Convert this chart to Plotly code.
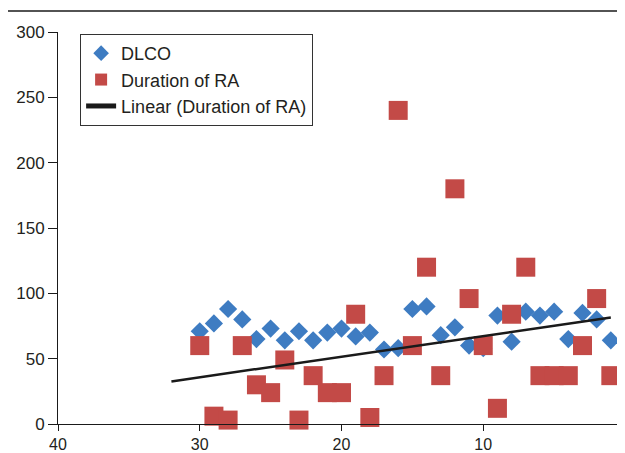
import numpy as np
import plotly.graph_objects as go

# Data (x = index)
x_vals = list(range(30, 0, -1))
dlco = [71, 77, 88, 80, 65, 73, 64, 71, 64, 70, 73, 67, 70, 57, 58,
        88, 90, 68, 74, 60, 58, 83, 63, 86, 83, 86, 65, 85, 80, 64]
duration_ra = [60, 6, 3, 60, 30, 24, 49, 3, 37, 24, 24, 84, 5, 37, 240,
               60, 120, 37, 180, 96, 60, 12, 84, 120, 37, 37, 37, 60, 96, 37]
trend_range = [32, 1]
x_ticks = [40, 30, 20, 10, 0]
y_ticks = [0, 50, 100, 150, 200, 250, 300]

slope, intercept = np.polyfit(x_vals, duration_ra, 1)
trend_x = np.array(trend_range, dtype=float)
trend_y = slope * trend_x + intercept

BLUE = "#3E7CC2"
RED = "#C34A47"
FONT = "Liberation Sans, Arial, Helvetica, sans-serif"
TXT = "#231F20"

fig = go.Figure()
fig.add_trace(go.Scatter(
    x=x_vals, y=dlco, mode="markers", name="DLCO",
    marker=dict(symbol="diamond", size=14, color=BLUE, line=dict(width=0)),
    cliponaxis=False))
fig.add_trace(go.Scatter(
    x=x_vals, y=duration_ra, mode="markers", name="Duration of RA",
    marker=dict(symbol="square", size=19, color=RED, line=dict(width=0)),
    cliponaxis=False))
fig.add_trace(go.Scatter(
    x=trend_x, y=trend_y, mode="lines", name="Linear (Duration of RA)",
    line=dict(color="#1a1a1a", width=2.5)))

fig.update_layout(
    width=617, height=445,
    margin=dict(l=50, r=0, t=24, b=29),
    paper_bgcolor="white", plot_bgcolor="white",
    font=dict(family=FONT, size=16, color=TXT),
    showlegend=True,
    legend=dict(x=0.039, y=0.995, xanchor="left", yanchor="top",
                bordercolor="#333333", borderwidth=1, bgcolor="white",
                font=dict(family=FONT, size=18, color=TXT),
                itemsizing="constant", tracegroupgap=0),
    xaxis=dict(range=[40, 0], tickvals=x_ticks, showgrid=False, zeroline=False,
               showline=True, linecolor="#1a1a1a", linewidth=1, automargin=False,
               ticks="outside", ticklen=6, tickcolor="#1a1a1a",
               tickfont=dict(family=FONT, size=16, color=TXT)),
    yaxis=dict(range=[0, 300], tickvals=y_ticks, showgrid=False, zeroline=False,
               showline=True, linecolor="#1a1a1a", linewidth=1, automargin=False,
               ticks="outside", ticklen=9, tickcolor="#1a1a1a",
               tickfont=dict(family=FONT, size=17, color=TXT)),
    shapes=[dict(type="line", xref="paper", yref="paper",
                 x0=-0.09, x1=1.0, y0=1.0536, y1=1.0536,
                 line=dict(color="#1a1a1a", width=1.5))],
)

fig.write_html("out.html")
